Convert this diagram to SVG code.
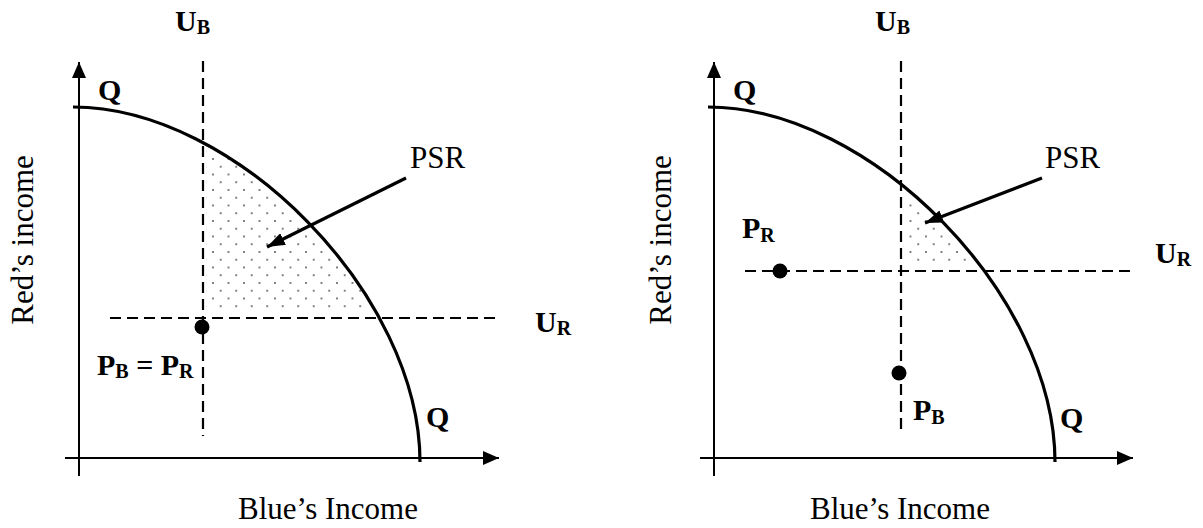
<svg xmlns="http://www.w3.org/2000/svg" width="1203" height="528" viewBox="0 0 1203 528">
  <style>
    .axis { stroke: #000; stroke-width: 2; fill: none; }
    .ppf { stroke: #000; stroke-width: 3.2; fill: none; }
    .dash { stroke: #000; stroke-width: 2.2; stroke-dasharray: 11 6; fill: none; }
    .ptr { stroke: #000; stroke-width: 3.2; fill: none; }
    .lbl { font-family: "Liberation Serif", "Times New Roman", serif; font-size: 30px; font-weight: bold; fill: #000; }
    .sub { font-size: 20px; }
    .txt { font-family: "Liberation Serif", "Times New Roman", serif; font-size: 31px; fill: #000; }
    .pt { fill: #000; }
  </style>
  <defs>
    <pattern id="dots" patternUnits="userSpaceOnUse" x="209.1" y="155.1" width="15.5" height="15.5">
      <circle cx="3.875" cy="3.875" r="0.9" fill="#444"/>
      <circle cx="11.625" cy="11.625" r="0.9" fill="#444"/>
    </pattern>
    <clipPath id="underL">
      <path d="M73,107 C236,107 420,295 420,462 L73,462 Z"/>
    </clipPath>
    <clipPath id="underR">
      <path d="M708,107 C871,107 1055,295 1055,462 L708,462 Z"/>
    </clipPath>
    <marker id="axHead" viewBox="0 0 16 14" refX="16" refY="7" markerWidth="16" markerHeight="14" markerUnits="userSpaceOnUse" orient="auto">
      <path d="M0,0 L16,7 L0,14 Z" fill="#000"/>
    </marker>
    <marker id="ptrHead" viewBox="0 0 18 13" refX="18" refY="6.5" markerWidth="18" markerHeight="13" markerUnits="userSpaceOnUse" orient="auto">
      <path d="M0,0 L18,6.5 L0,13 Z" fill="#000"/>
    </marker>
  </defs>

  <!-- LEFT PANEL -->
  <g id="left-shade">
    <rect x="206" y="130" width="220" height="183" fill="url(#dots)" clip-path="url(#underL)"/>
  </g>
  <g id="left-axes">
    <line class="axis" x1="79" y1="476" x2="79" y2="62" marker-end="url(#axHead)"/>
    <line class="axis" x1="65" y1="458" x2="499" y2="458" marker-end="url(#axHead)"/>
  </g>
  <g id="left-curve">
    <path class="ppf" d="M73,107 C236,107 420,295 420,462"/>
  </g>
  <g id="left-UB">
    <line class="dash" x1="203" y1="61" x2="203" y2="436"/>
    <text class="lbl" x="175" y="31">U<tspan class="sub" dy="3">B</tspan></text>
  </g>
  <g id="left-UR">
    <line class="dash" x1="110" y1="318" x2="500" y2="318"/>
    <text class="lbl" x="535" y="332">U<tspan class="sub" dy="3">R</tspan></text>
  </g>
  <g id="left-point">
    <circle class="pt" cx="202" cy="327" r="7.5"/>
    <text class="lbl" x="97" y="375">P<tspan class="sub" dy="3">B</tspan><tspan dy="-3"> = P</tspan><tspan class="sub" dy="3">R</tspan></text>
  </g>
  <g id="left-Q">
    <text class="lbl" x="98" y="100">Q</text>
    <text class="lbl" x="426" y="427">Q</text>
  </g>
  <g id="left-PSR">
    <text class="txt" x="410" y="168">PSR</text>
  </g>
  <g id="left-titles">
    <text class="txt" text-anchor="middle" transform="translate(33,240) rotate(-90)">Red’s income</text>
    <text class="txt" text-anchor="middle" x="328" y="519">Blue’s Income</text>
  </g>

  <!-- RIGHT PANEL -->
  <g id="right-shade">
    <rect x="904" y="160" width="160" height="106" fill="url(#dots)" clip-path="url(#underR)"/>
  </g>
  <g id="right-axes">
    <line class="axis" x1="714" y1="476" x2="714" y2="62" marker-end="url(#axHead)"/>
    <line class="axis" x1="700" y1="458" x2="1133" y2="458" marker-end="url(#axHead)"/>
  </g>
  <g id="right-curve">
    <path class="ppf" d="M708,107 C871,107 1055,295 1055,462"/>
  </g>
  <g id="right-UB">
    <line class="dash" x1="901" y1="61" x2="901" y2="434"/>
    <text class="lbl" x="875" y="31">U<tspan class="sub" dy="3">B</tspan></text>
  </g>
  <g id="right-UR">
    <line class="dash" x1="745" y1="271" x2="1135" y2="271"/>
    <text class="lbl" x="1155" y="263">U<tspan class="sub" dy="3">R</tspan></text>
  </g>
  <g id="right-PR">
    <circle class="pt" cx="780" cy="271" r="7.5"/>
    <text class="lbl" x="742" y="238">P<tspan class="sub" dy="4">R</tspan></text>
  </g>
  <g id="right-PB">
    <circle class="pt" cx="899" cy="373" r="7.5"/>
    <text class="lbl" x="913" y="420">P<tspan class="sub" dy="4">B</tspan></text>
  </g>
  <g id="right-Q">
    <text class="lbl" x="733" y="100">Q</text>
    <text class="lbl" x="1060" y="428">Q</text>
  </g>
  <g id="right-PSR">
    <text class="txt" x="1045" y="168">PSR</text>
  </g>
  <g id="right-titles">
    <text class="txt" text-anchor="middle" transform="translate(671,240) rotate(-90)">Red’s income</text>
    <text class="txt" text-anchor="middle" x="900" y="519">Blue’s Income</text>
  </g>

  <g id="connectors">
    <line class="ptr" x1="406" y1="178" x2="267" y2="247" marker-end="url(#ptrHead)"/>
    <line class="ptr" x1="1042" y1="178" x2="925" y2="223" marker-end="url(#ptrHead)"/>
  </g>
</svg>
